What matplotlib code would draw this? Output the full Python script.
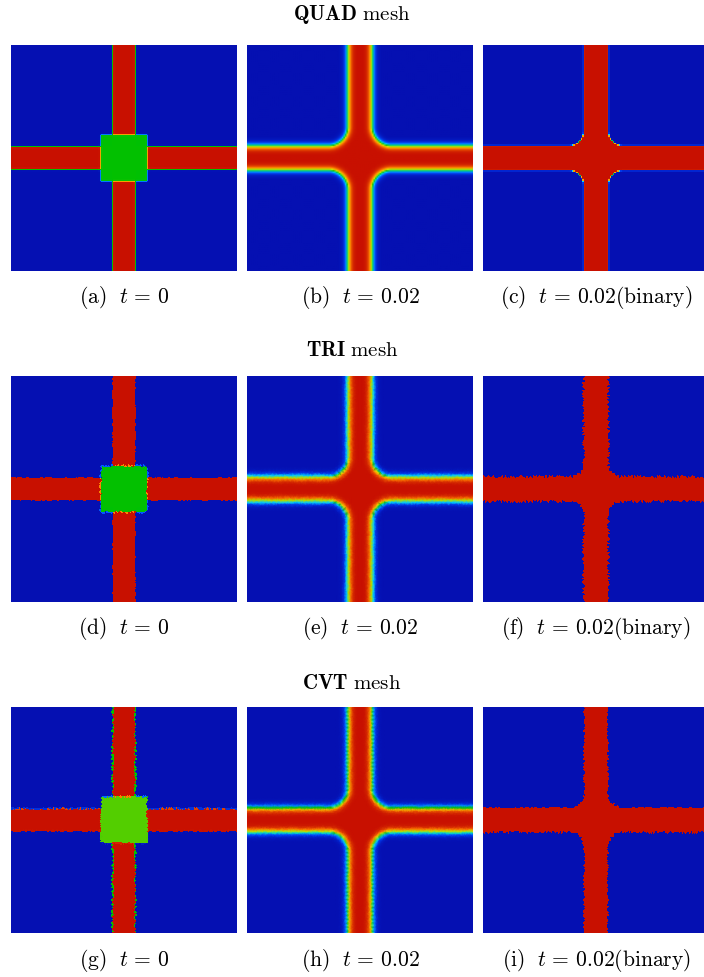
import numpy as np
import matplotlib.pyplot as plt
import matplotlib.tri as mtri
from matplotlib.colors import LinearSegmentedColormap

plt.rcParams['mathtext.fontset'] = 'cm'

# mesh types (rows) and snapshots (columns)
meshes = ['QUAD', 'TRI', 'CVT']
letters = [['a', 'b', 'c'], ['d', 'e', 'f'], ['g', 'h', 'i']]
times = ['0', '0.02', '0.02']
binary = [False, False, True]

# geometry (unit square, centre 0.5)
bar_half = [0.050, 0.054, 0.054]      # half width of the cross bars
corner_r = [0.003, 0.085, 0.065]      # rounding of the blue corners
iface_w = [0.003, 0.015, 0.002]       # interface thickness
tri_w = [0.0012, 0.015, 0.00002]      # interface thickness on triangle meshes
square_half = 0.103                   # green square at t=0
square_val = [0.50, 0.50, 0.56]       # phase value of the square per mesh
n_quad = 150
n_tri = 100

cmap = LinearSegmentedColormap.from_list('pf', [
    (0.00, '#0510b2'), (0.16, '#0048ff'), (0.33, '#00d8ff'),
    (0.50, '#00c000'), (0.67, '#e8e800'), (0.84, '#ff7a00'),
    (1.00, '#c81000')])


def sd_rbox(x, y, cx, cy, bx, by, r):
    qx = np.abs(x - cx) - bx + r
    qy = np.abs(y - cy) - by + r
    out = np.hypot(np.maximum(qx, 0), np.maximum(qy, 0))
    return out + np.minimum(np.maximum(qx, qy), 0) - r


def field(x, y, col, row, w=None):
    h, r = bar_half[col], corner_r[col]
    w = iface_w[col] if w is None else w
    lo, hi = 0.5 - h, 0.5 + h
    d = None
    for (a0, a1) in [(-1, lo), (hi, 2)]:
        for (b0, b1) in [(-1, lo), (hi, 2)]:
            s = sd_rbox(x, y, (a0 + a1) / 2, (b0 + b1) / 2,
                        (a1 - a0) / 2, (b1 - b0) / 2, r)
            d = s if d is None else np.minimum(d, s)
    phi = 0.5 * (1 + np.tanh(d / w))
    if col == 0:
        sq = sd_rbox(x, y, 0.5, 0.5, square_half, square_half, 0.006)
        m = 0.5 * (1 - np.tanh(sq / w))
        phi = phi * (1 - m) + square_val[row] * m
    return phi


def tri_mesh(row):
    if row == 1:
        g = np.linspace(0, 1, n_tri + 1)
        X, Y = np.meshgrid(g, g)
        return mtri.Triangulation(X.ravel(), Y.ravel())
    dx = 1.0 / n_tri
    dy = dx * np.sqrt(3) / 2
    xs, ys = [], []
    ny = int(1 / dy) + 1
    for j in range(ny + 1):
        yy = min(j * dy, 1.0)
        off = dx / 2 if j % 2 else 0
        xx = np.arange(off, 1 + 1e-9, dx)
        xx = np.concatenate([[0.0], xx[xx > 0], [1.0]]) if off else xx
        xs.append(xx)
        ys.append(np.full(len(xx), yy))
    return mtri.Triangulation(np.concatenate(xs), np.concatenate(ys))


W, H = 704, 978
fig = plt.figure(figsize=(W / 100, H / 100), dpi=100)
col_left = [11, 247, 483]
row_top = [46, 377, 708]
size = 226
title_y = [14, 350, 683]
cap_y = [298, 629, 961]

for row in range(3):
    fig.text(352 / W, 1 - title_y[row] / H,
             r'$\mathbf{%s}\ \mathrm{mesh}$' % meshes[row],
             ha='center', va='center', fontsize=15)
    for col in range(3):
        ax = fig.add_axes([col_left[col] / W, 1 - (row_top[row] + size) / H,
                           size / W, size / H])
        if row == 0:
            c = (np.arange(n_quad) + 0.5) / n_quad
            X, Y = np.meshgrid(c, c)
            ax.imshow(field(X, Y, col, row), cmap=cmap, vmin=0, vmax=1,
                      origin='lower', extent=[0, 1, 0, 1],
                      interpolation='bilinear' if col == 1 else 'nearest')
        else:
            tr = tri_mesh(row)
            if col == 1:
                ax.tripcolor(tr, field(tr.x, tr.y, col, row), cmap=cmap,
                             vmin=0, vmax=1, shading='gouraud')
            else:
                cx = tr.x[tr.triangles].mean(axis=1)
                cy = tr.y[tr.triangles].mean(axis=1)
                ax.tripcolor(tr, facecolors=field(cx, cy, col, row, tri_w[col]),
                             cmap=cmap, vmin=0, vmax=1, edgecolors='none',
                             antialiased=False)
        ax.set_xlim(0, 1)
        ax.set_ylim(0, 1)
        ax.axis('off')
        tag = r'\mathrm{(binary)}' if binary[col] else ''
        fig.text((col_left[col] + size / 2) / W, 1 - cap_y[row] / H,
                 r'$\mathrm{(%s)}\ \ t\,=\,%s%s$' % (letters[row][col], times[col], tag),
                 ha='center', va='center', fontsize=15.5)

fig.savefig('out.png', dpi=100)
